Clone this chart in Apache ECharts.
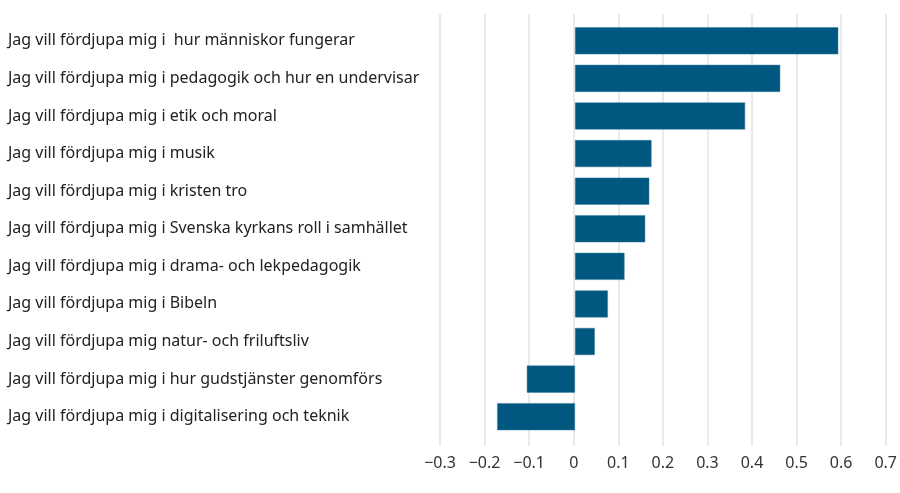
<!DOCTYPE html>
<html>
<head>
<meta charset="utf-8">
<script src="https://cdn.jsdelivr.net/npm/echarts@6/dist/echarts.min.js"></script>
<style>
  html, body { margin: 0; padding: 0; background: #fff; }
  #chart { width: 900px; height: 493px; }
</style>
</head>
<body>
<div id="chart"></div>
<script>
// Topics, top to bottom
const categories = [
  "Jag vill fördjupa mig i  hur människor fungerar",
  "Jag vill fördjupa mig i pedagogik och hur en undervisar",
  "Jag vill fördjupa mig i etik och moral",
  "Jag vill fördjupa mig i musik",
  "Jag vill fördjupa mig i kristen tro",
  "Jag vill fördjupa mig i Svenska kyrkans roll i samhället",
  "Jag vill fördjupa mig i drama- och lekpedagogik",
  "Jag vill fördjupa mig i Bibeln",
  "Jag vill fördjupa mig natur- och friluftsliv",
  "Jag vill fördjupa mig i hur gudstjänster genomförs",
  "Jag vill fördjupa mig i digitalisering och teknik"
];
const values = [0.585, 0.456, 0.378, 0.170, 0.165, 0.156, 0.110, 0.073, 0.044, -0.107, -0.173];
const xMin = -0.3, xMax = 0.7, xStep = 0.1;

const font = "Noto Sans";
const chart = echarts.init(document.getElementById('chart'), null, { renderer: 'canvas' });

chart.setOption({
  animation: false,
  backgroundColor: '#ffffff',
  grid: [
    { left: 440, right: 10, top: 22, bottom: 57.5 },   // bars
    { left: 440, right: 10, top: 14, bottom: 47 }      // value scale and grid lines
  ],
  xAxis: [
    {
      gridIndex: 0, type: 'value', min: xMin, max: xMax, interval: xStep,
      show: false
    },
    {
      gridIndex: 1, type: 'value', min: xMin, max: xMax, interval: xStep,
      axisLine: { show: false },
      axisTick: { show: false },
      splitLine: { show: true, lineStyle: { color: '#e3e3e3', width: 1.5 } },
      axisLabel: {
        margin: 9,
        color: '#333',
        fontFamily: font,
        fontSize: 16,
        formatter: v => {
          const r = Math.round(v * 10) / 10;
          return r < 0 ? '\u2212' + Math.abs(r) : String(r);
        }
      }
    }
  ],
  yAxis: [
    {
      gridIndex: 0, type: 'category', data: categories, inverse: true,
      axisLine: { show: false },
      axisTick: { show: false },
      splitLine: { show: false },
      axisLabel: {
        align: 'left',
        margin: 432,
        color: '#222',
        fontFamily: font,
        fontSize: 16
      }
    },
    {
      gridIndex: 1, type: 'value', min: 0, max: 1, show: false
    }
  ],
  series: [
    {
      type: 'bar',
      xAxisIndex: 0, yAxisIndex: 0,
      data: values,
      barCategoryGap: '28%',
      itemStyle: { color: '#00577f', borderColor: '#3f7fa0', borderWidth: 0.5 },
      z: 3
    }
  ]
});
</script>
</body>
</html>
